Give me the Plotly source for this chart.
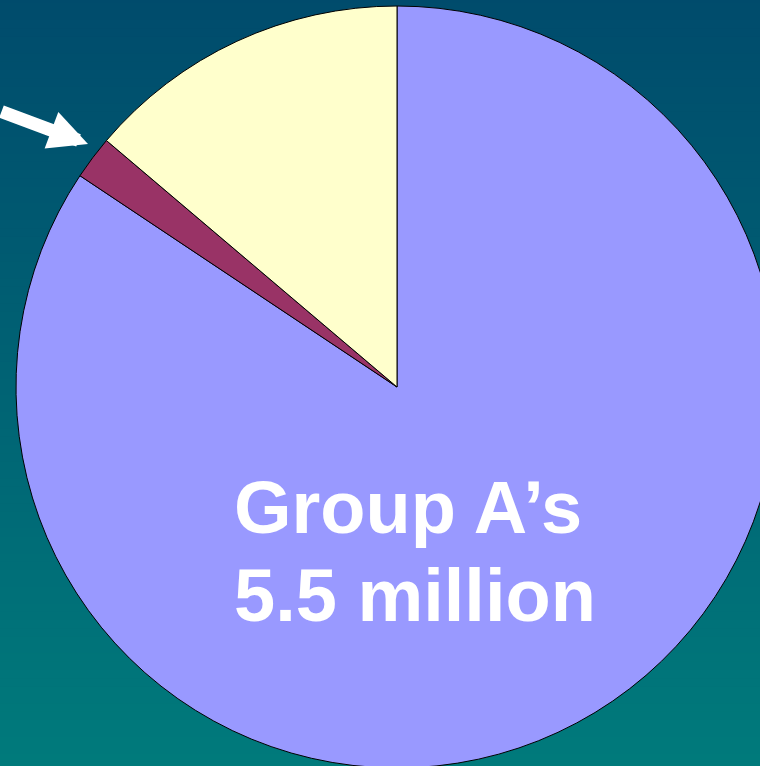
import plotly.graph_objects as go

# ---- data ----
groups = ["Group A", "Group B", "Group C"]
values_millions = [5.5, 0.12, 0.9]
slice_colors = ["#9999FF", "#993366", "#FFFFCC"]
label_lines = ["Group A\u2019s", "5.5 million"]

# ---- geometry of the figure (pixels) ----
W, H = 778, 768
ML, MT = 16, 6
PW, PH = W - ML, H - MT


def px_x(p):
    return (p - ML) / PW


def px_y(p):
    return 1 - (p - MT) / PH


fig = go.Figure(
    go.Pie(
        labels=groups,
        values=values_millions,
        sort=False,
        direction="clockwise",
        rotation=0,
        marker=dict(colors=slice_colors, line=dict(color="#000000", width=1)),
        textinfo="none",
        hoverinfo="label+value",
        showlegend=False,
        domain=dict(x=[0, 1], y=[0, 1]),
    )
)

# background gradient (dark blue-teal at top to teal at bottom)
top_rgb = (0, 75, 108)
bot_rgb = (0, 124, 124)
n = 96
shapes = []
for i in range(n):
    t = i / (n - 1)
    c = tuple(round(top_rgb[k] + (bot_rgb[k] - top_rgb[k]) * t) for k in range(3))
    y0p = i * 800 / n - 5
    y1p = (i + 1) * 800 / n - 5 + 1
    shapes.append(
        dict(
            type="rect", xref="paper", yref="paper", layer="below",
            x0=px_x(-10), x1=px_x(W + 10), y0=px_y(y1p), y1=px_y(y0p),
            fillcolor="rgb(%d,%d,%d)" % c, line=dict(width=0),
        )
    )

annotations = [
    dict(
        x=px_x(88), y=px_y(144), xref="paper", yref="paper",
        text="", showarrow=True, arrowhead=2, arrowsize=0.6,
        arrowwidth=13, arrowcolor="#FFFFFF", ax=-100, ay=-33,
        standoff=0,
    ),
    dict(
        x=px_x(232), y=px_y(507), xref="paper", yref="paper",
        text=label_lines[0], showarrow=False, xanchor="left", yanchor="middle",
        font=dict(family="Liberation Sans, Arial, sans-serif", size=74, color="#FFFFFF", weight="bold"),
    ),
    dict(
        x=px_x(232), y=px_y(595), xref="paper", yref="paper",
        text=label_lines[1], showarrow=False, xanchor="left", yanchor="middle",
        font=dict(family="Liberation Sans, Arial, sans-serif", size=74, color="#FFFFFF", weight="bold"),
    ),
]

fig.update_layout(
    width=W, height=H,
    margin=dict(l=ML, r=0, t=MT, b=0, pad=0),
    paper_bgcolor="rgb(0,100,116)",
    plot_bgcolor="rgba(0,0,0,0)",
    shapes=shapes,
    annotations=annotations,
)

fig.write_html(
    "out.html",
    config={"displayModeBar": False},
    post_script="document.body.style.margin='0';document.body.style.overflow='hidden';",
)
